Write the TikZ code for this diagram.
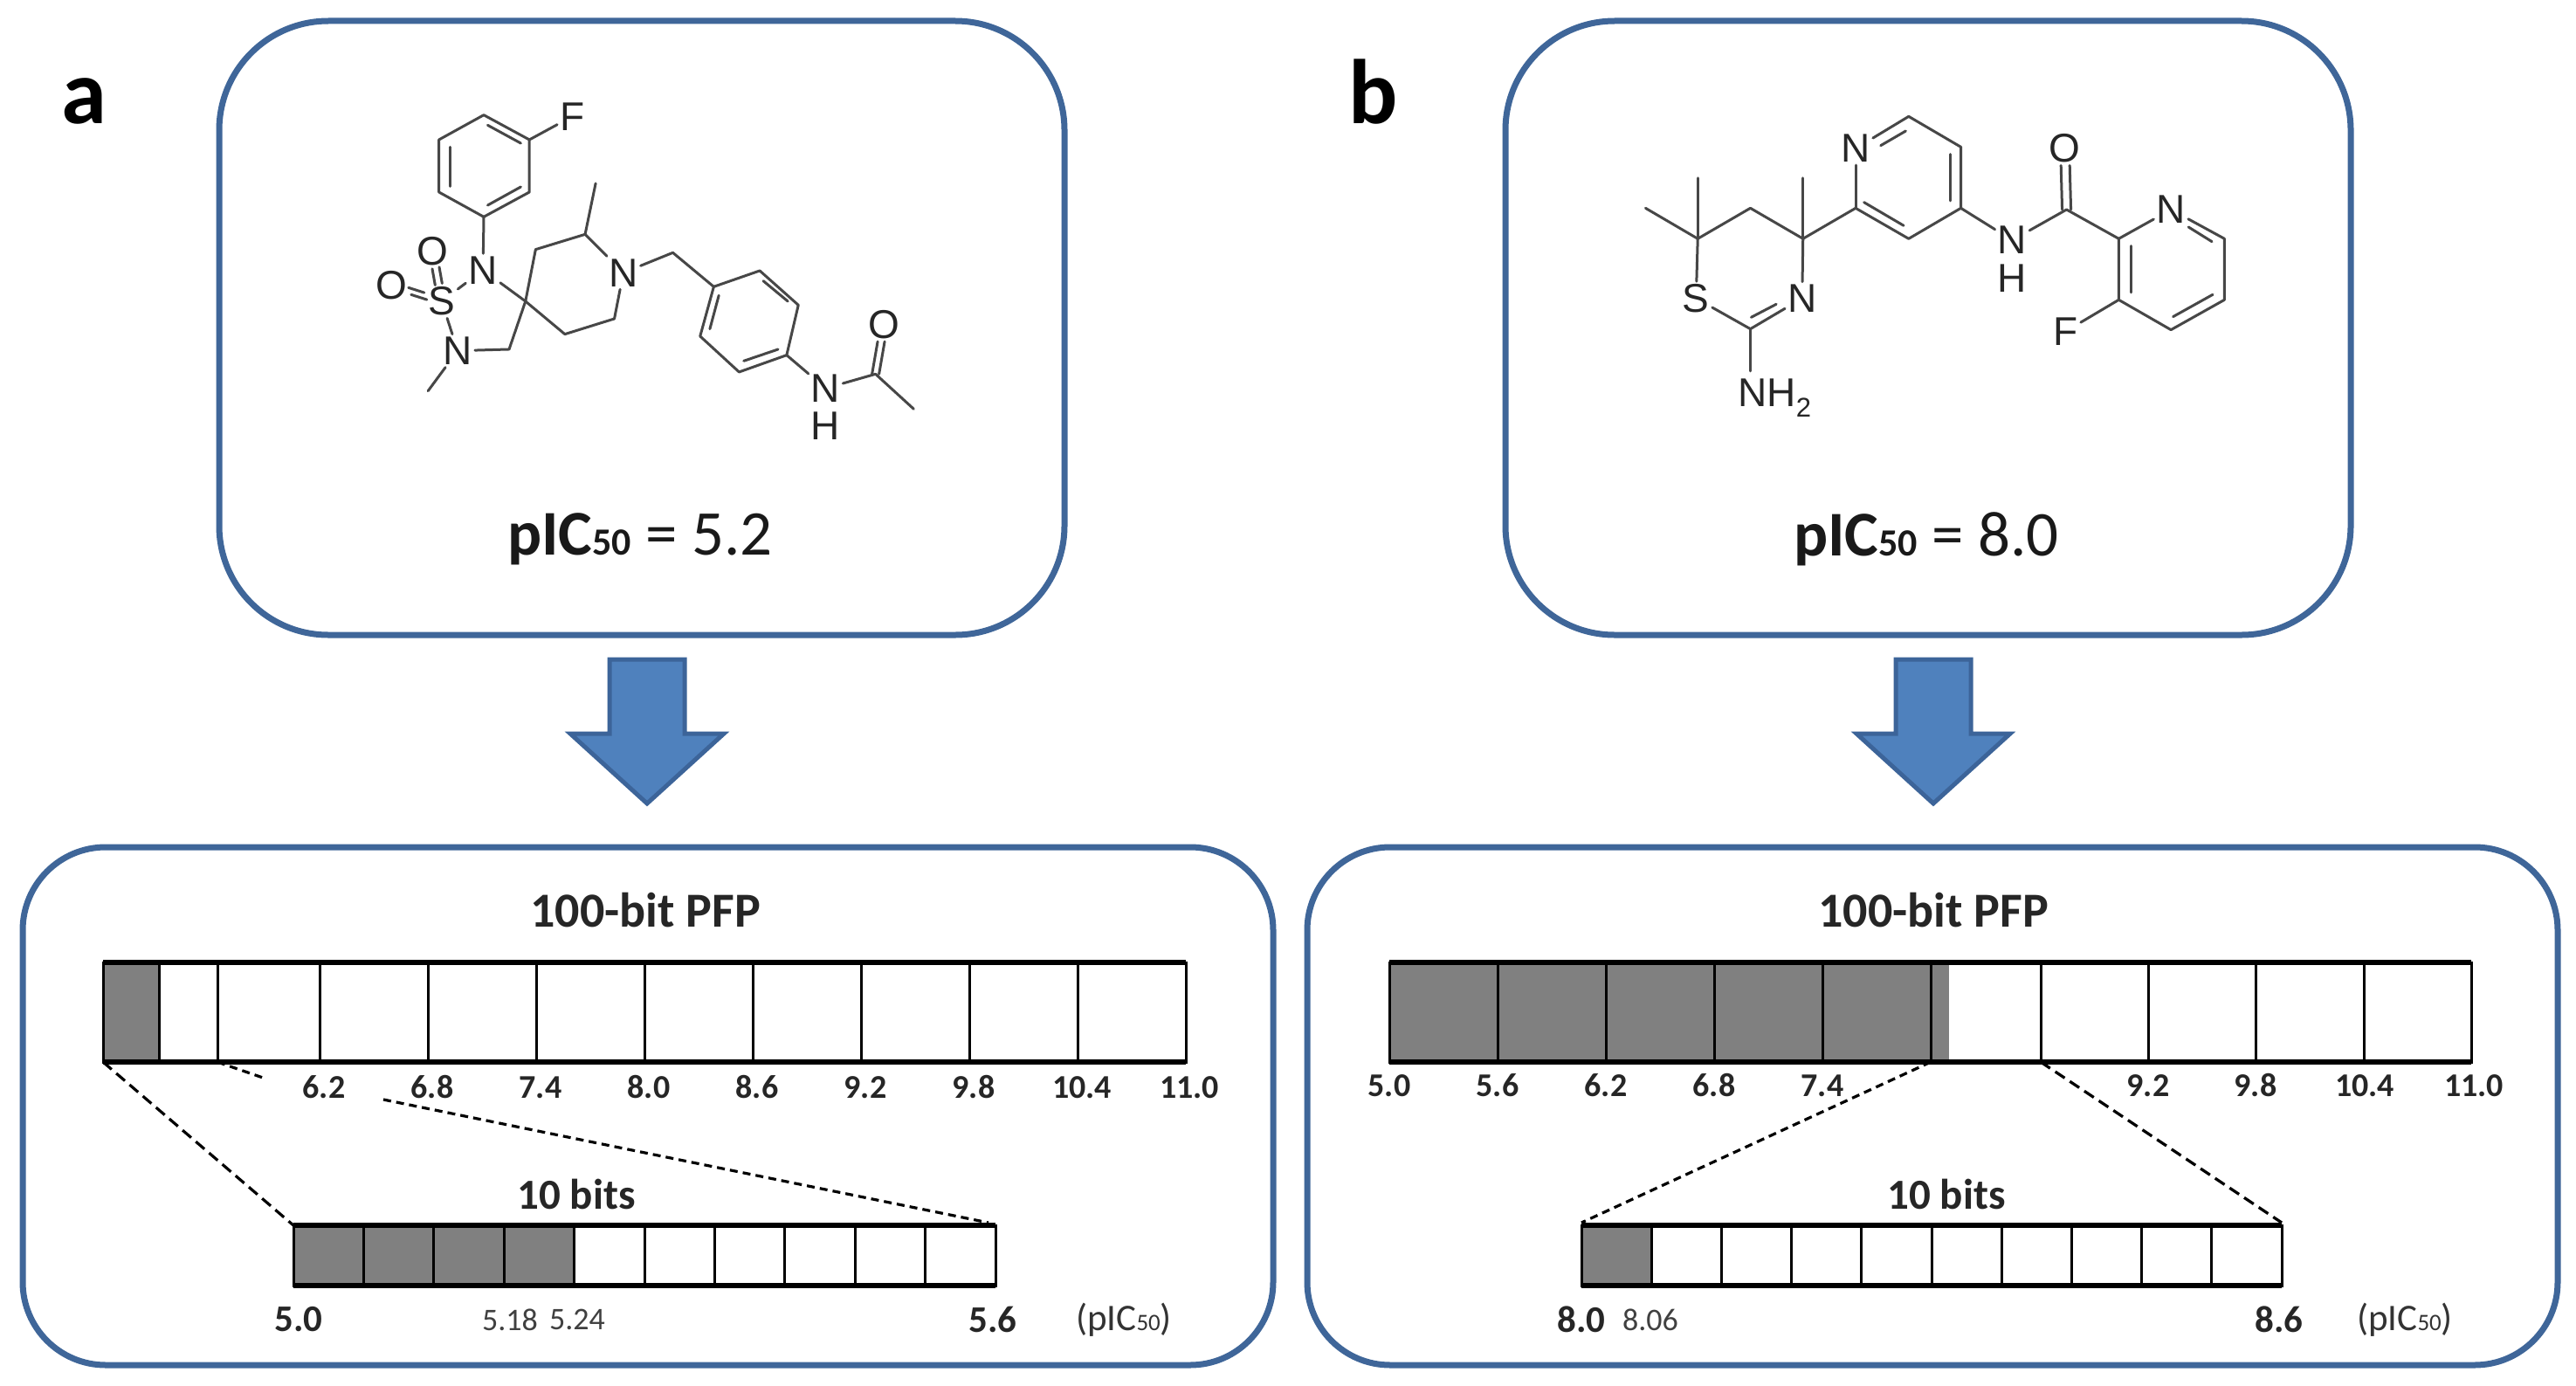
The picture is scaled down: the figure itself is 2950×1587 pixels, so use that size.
\documentclass[tikz,border=0pt]{standalone}
\usepackage{fontspec}
\setmainfont{Carlito}
\newfontfamily\chem{Liberation Sans}
\definecolor{panelblue}{HTML}{3F6699}
\definecolor{arrowfill}{HTML}{4F81BD}
\definecolor{arrowedge}{HTML}{3C6499}
\definecolor{bitgray}{HTML}{808080}
\tikzset{
  panel/.style={draw=panelblue,line width=7pt,fill=white},
  bigarrow/.style={draw=arrowedge,line width=5pt,fill=arrowfill,line join=miter,miter limit=6},
  bitcell/.style={draw=black,line width=3pt,fill=none},
  bitframe/.style={draw=black,line width=3pt,fill=none},
  bitedge/.style={draw=black,line width=6pt},
  bitfill/.style={fill=bitgray,draw=none},
  zoomline/.style={draw=black,line width=3.2pt,dash pattern=on 13pt off 7pt},
  zoomdots/.style={draw=black,line width=3.2pt,dash pattern=on 9pt off 6pt},
  tick/.style={font=\fontsize{38}{38}\selectfont\bfseries,text=black!85,inner sep=0pt},
  tickthin/.style={font=\fontsize{36}{36}\selectfont,text=black!75,inner sep=0pt},
  ticklarge/.style={font=\fontsize{43}{43}\selectfont\bfseries,text=black!85,inner sep=0pt},
  bartitle/.style={font=\fontsize{56}{56}\selectfont\bfseries,text=black!85,inner sep=0pt},
  subtitle/.style={font=\fontsize{49}{49}\selectfont\bfseries,text=black!85,inner sep=0pt},
  unitlabel/.style={font=\fontsize{43}{43}\selectfont,text=black!80,inner sep=0pt},
  pic50/.style={font=\fontsize{73}{73}\selectfont,text=black!90,inner sep=0pt},
  panelletter/.style={font=\fontsize{105}{105}\selectfont\bfseries,text=black,inner sep=0pt,anchor=base},
  atom/.style={font=\chem\fontsize{46}{40}\selectfont,text=black!85,inner sep=3pt},
  bond/.style={draw=black!72,line width=3pt,line cap=round,line join=round},
}
\usetikzlibrary{calc}
\begin{document}
\begin{tikzpicture}[x=1pt,y=-1pt]
\useasboundingbox (0,0) rectangle (2950,1587);
\fill[white] (0,0) rectangle (2950,1587);

% panels
\draw[panel,rounded corners=125pt] (251,24) rectangle (1219,727);
\draw[panel,rounded corners=125pt] (1724,24) rectangle (2692,727);
\draw[panel,rounded corners=95pt] (26,970) rectangle (1458,1563);
\draw[panel,rounded corners=95pt] (1497,970) rectangle (2929,1563);

\node[panelletter] (la) at (96,141) {a};
\node[panelletter] (lb) at (1573,141) {b};

\node[pic50] (pa) at (733,617) {\textbf{pIC\fontsize{44}{44}\selectfont 50} = 5.2};
\node[pic50] (pb) at (2206,617) {\textbf{pIC\fontsize{44}{44}\selectfont 50} = 8.0};

% big arrows
\draw[bigarrow] (698,755) -- (784,755) -- (784,840) -- (829,840) -- (741,920) -- (653,840) -- (698,840) -- cycle;
\draw[bigarrow] (2171,755) -- (2257,755) -- (2257,840) -- (2302,840) -- (2214,920) -- (2126,840) -- (2171,840) -- cycle;

% molecule a
\begin{scope}[shift={(400,80)},x=0.4464pt,y=-0.3333pt]
\foreach \n/\p in {a1/{345,155},a2/{462,240},a3/{462,420},a4/{345,505},a5/{230,420},a6/{230,240},
  sp/{452,795},c1/{410,960},me1/{202,1103},c2/{478,617},c3/{605,565},me2/{632,390},c4/{680,855},c5/{553,908},
  c6/{830,628},b1/{935,745},b2/{1053,690},b3/{1152,808},b4/{1122,980},b5/{1000,1038},b6/{900,915},
  c7/{1350,1045},me3/{1448,1165}}
  \coordinate (\n) at (\p);
\node[atom] (fa) at (572,160) {F};
\node[atom] (n1) at (343,688) {N};
\node[atom] (s1) at (237,795) {S};
\node[atom] (o1) at (214,622) {O};
\node[atom] (o2) at (108,740) {O};
\node[atom] (n2) at (278,965) {N};
\node[atom] (n3) at (703,697) {N};
\node[atom] (n4) at (1222,1094) {N};
\node[atom] (h4) at (1222,1224) {H};
\node[atom] (o3) at (1372,875) {O};
\draw[bond] (a1)--(a2)--(a3)--(a4)--(a5)--(a6)--cycle;
\draw[bond] (a2)--(fa);
\draw[bond] (a4)--(n1);
\draw[bond] (n1)--(s1);
\draw[bond] (s1)--(n2);
\draw[bond] (n2)--(c1);
\draw[bond] (c1)--(sp);
\draw[bond] (n1)--(sp);
\draw[bond] (n2)--(me1);
\draw[bond] (sp)--(c2)--(c3);
\draw[bond] (c3)--(me2);
\draw[bond] (c3)--(n3);
\draw[bond] (n3)--(c4);
\draw[bond] (c4)--(c5)--(sp);
\draw[bond] (n3)--(c6);
\draw[bond] (c6)--(b1);
\draw[bond] (b1)--(b2)--(b3)--(b4)--(b5)--(b6)--cycle;
\draw[bond] (b4)--(n4);
\draw[bond] (n4)--(c7);
\draw[bond] (c7)--(me3);
\draw[bond,transform canvas={xshift=-4pt,yshift=-1pt}] (s1)--(o1);
\draw[bond,transform canvas={xshift=4pt,yshift=1pt}] (s1)--(o1);
\draw[bond,transform canvas={yshift=-4pt,xshift=1.5pt}] (s1)--(o2);
\draw[bond,transform canvas={yshift=4pt,xshift=-1.5pt}] (s1)--(o2);
\draw[bond,transform canvas={xshift=-4pt}] (c7)--(o3);
\draw[bond,transform canvas={xshift=4pt}] (c7)--(o3);
\draw[bond] (355,190)--(440,252);
\draw[bond] (258,265)--(258,400);
\draw[bond] (355,465)--(440,402);
\draw[bond] (1062,725)--(1125,795);
\draw[bond] (1100,960)--(1012,1000);
\draw[bond] (925,890)--(948,775);
\end{scope}

% molecule b
\begin{scope}[shift={(1850,100)},x=0.4783pt,y=-0.3333pt]
\foreach \n/\p in {d1/{197,520},d2/{197,312},d3/{72,415},d4/{323,415},d5/{449,520},d6/{449,312},d7/{323,830},
  e1/{575,415},e2/{702,100},e3/{827,205},e4/{827,415},e5/{702,520},g1/{1080,420},
  h1/{1205,520},h3/{1458,520},h4/{1458,730},h5/{1330,833},h6/{1205,730}}
  \coordinate (\n) at (\p);
\node[atom] (sb) at (193,725) {S};
\node[atom] (nb1) at (447,725) {N};
\node[atom,anchor=base west,inner sep=0pt] (nh2) at (293,1097) {NH\raisebox{-0.25em}{\fontsize{31}{31}\selectfont 2}};
\coordinate (nh2t) at (323,975);
\node[atom] (nb2) at (575,210) {N};
\node[atom] (nb3) at (950,525) {N};
\node[atom] (hb3) at (950,655) {H};
\node[atom] (ob) at (1076,210) {O};
\node[atom] (nb4) at (1330,420) {N};
\node[atom] (fb) at (1078,838) {F};
\draw[bond] (d1)--(d2);
\draw[bond] (d1)--(d3);
\draw[bond] (d1)--(d4)--(d5);
\draw[bond] (d5)--(d6);
\draw[bond] (d1)--(sb);
\draw[bond] (d5)--(nb1);
\draw[bond] (sb)--(d7);
\draw[bond] (nb1)--(d7);
\draw[bond] (d7)--(nh2t);
\draw[bond] (d5)--(e1);
\draw[bond] (e1)--(nb2);
\draw[bond] (nb2)--(e2);
\draw[bond] (e2)--(e3)--(e4)--(e5)--(e1);
\draw[bond] (e4)--(nb3);
\draw[bond] (nb3)--(g1);
\draw[bond] (g1)--(h1);
\draw[bond] (h1)--(nb4);
\draw[bond] (nb4)--(h3);
\draw[bond] (h3)--(h4)--(h5)--(h6)--(h1);
\draw[bond] (h6)--(fb);
\draw[bond,transform canvas={xshift=-5pt}] (g1)--(ob);
\draw[bond,transform canvas={xshift=5pt}] (g1)--(ob);
\draw[bond] (325,790)--(385,745);
\draw[bond] (635,200)--(695,150);
\draw[bond] (802,230)--(802,390);
\draw[bond] (595,395)--(690,475);
\draw[bond] (1235,545)--(1235,705);
\draw[bond] (1372,480)--(1428,530);
\draw[bond] (1335,788)--(1430,712);
\end{scope}

% bar a
\fill[bitfill] (118,1102) rectangle (182,1216);
\draw[bitframe] (118,1102) rectangle (1358,1216);
\draw[bitedge] (118,1102) -- (1358,1102);
\draw[bitedge] (118,1216) -- (1358,1216);
\foreach \x in {182,249,366,490,614,738,862,986,1110,1234}
  \draw[bitcell] (\x,1102) -- (\x,1216);
\foreach \x/\t in {371/6.2,495/6.8,619/7.4,743/8.0,867/8.6,991/9.2,1115/9.8,1239/10.4,1362/11.0}
  \node[tick] at (\x,1245) {\t};
\node[bartitle] (ta) at (739,1042) {100-bit PFP};
\node[subtitle] (ia) at (660,1367) {10 bits};
% inset a
\fill[bitfill] (336,1403) rectangle (658,1472);
\draw[bitframe] (336,1403) rectangle (1140,1472);
\draw[bitedge] (336,1403) -- (1140,1403);
\draw[bitedge] (336,1472) -- (1140,1472);
\foreach \i in {1,...,9}
  \draw[bitcell] ({336+80.4*\i},1403) -- ({336+80.4*\i},1472);
\node[ticklarge] at (342,1511) {5.0};
\node[tickthin] at (584,1511) {5.18};
\node[tickthin] at (661,1511) {5.24};
\node[ticklarge] at (1137,1511) {5.6};
\node[unitlabel] at (1287,1511) {(pIC{\fontsize{27}{27}\selectfont 50})};
\coordinate (za1) at (118,1216);
\coordinate (za2) at (336,1403);
\coordinate (za3) at (249,1216);
\coordinate (za4) at (304,1235);
\coordinate (za5) at (439,1259);
\coordinate (za6) at (1132,1400);
\draw[zoomline] (za1) -- (za2);
\draw[zoomdots] (za3) -- (za4);
\draw[zoomdots] (za5) -- (za6);

% bar b
\fill[bitfill] (1591,1102) rectangle (2232,1216);
\draw[bitframe] (1591,1102) rectangle (2830,1216);
\draw[bitedge] (1591,1102) -- (2830,1102);
\draw[bitedge] (1591,1216) -- (2830,1216);
\foreach \x in {1715,1839,1963,2087,2211,2337,2460,2583,2707}
  \draw[bitcell] (\x,1102) -- (\x,1216);
\foreach \x/\t in {1591/5.0,1715/5.6,1839/6.2,1963/6.8,2087/7.4,2460/9.2,2583/9.8,2708/10.4,2833/11.0}
  \node[tick] at (\x,1243) {\t};
\node[bartitle] (tb) at (2214,1042) {100-bit PFP};
\node[subtitle] (ib) at (2229,1367) {10 bits};
% inset b
\fill[bitfill] (1811,1403) rectangle (1891,1472);
\draw[bitframe] (1811,1403) rectangle (2613,1472);
\draw[bitedge] (1811,1403) -- (2613,1403);
\draw[bitedge] (1811,1472) -- (2613,1472);
\foreach \i in {1,...,9}
  \draw[bitcell] ({1811+80.2*\i},1403) -- ({1811+80.2*\i},1472);
\node[ticklarge] at (1811,1511) {8.0};
\node[tickthin] at (1890,1511) {8.06};
\node[ticklarge] at (2610,1511) {8.6};
\node[unitlabel] at (2754,1511) {(pIC{\fontsize{27}{27}\selectfont 50})};
\coordinate (zb1) at (2211,1216);
\coordinate (zb2) at (1811,1400);
\coordinate (zb3) at (2337,1216);
\coordinate (zb4) at (2613,1400);
\draw[zoomdots] (zb1) -- (zb2);
\draw[zoomline] (zb3) -- (zb4);
\end{tikzpicture}
\end{document}
